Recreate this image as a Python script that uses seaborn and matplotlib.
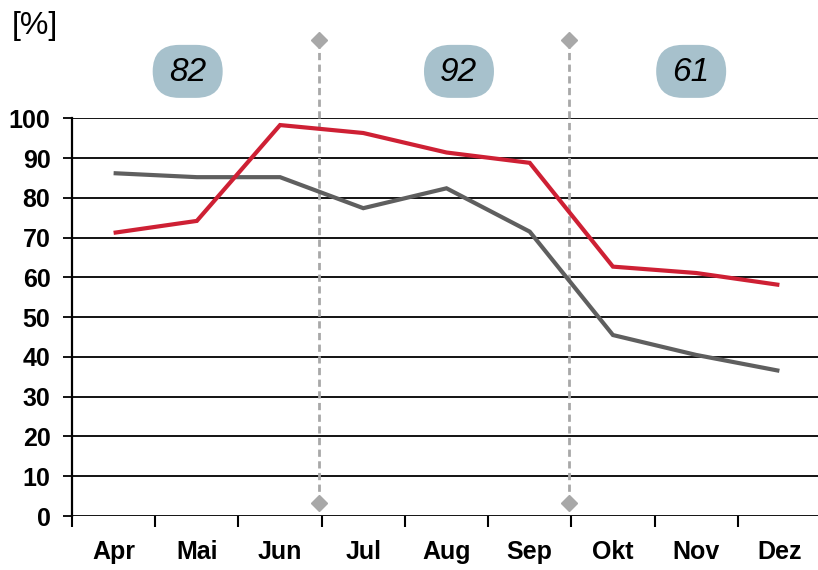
import numpy as np
import pandas as pd
import matplotlib
matplotlib.use("Agg")
import matplotlib.pyplot as plt
from matplotlib.patches import FancyBboxPatch
from matplotlib.transforms import ScaledTranslation
import seaborn as sns

# --- data -------------------------------------------------------------
months = ["Apr", "Mai", "Jun", "Jul", "Aug", "Sep", "Okt", "Nov", "Dez"]
serie_rot = [71.2, 74.2, 98.3, 96.3, 91.4, 88.8, 62.7, 61.1, 58.1]
serie_grau = [86.2, 85.2, 85.2, 77.4, 82.4, 71.5, 45.5, 40.5, 36.5]
quartal_werte = [82, 92, 61]
quartal_pos = [0.89, 4.15, 6.94]      # x position of each value badge
trenner = [2.47, 5.47]                # quarter separators
y_ticks = list(range(0, 101, 10))

RED = "#CE2034"
GREY = "#5F5F5F"
PILL = "#A7C1CC"
SEP = "#A8A8A8"

df = pd.DataFrame({
    "pos": list(range(len(months))) * 2,
    "wert": serie_rot + serie_grau,
    "serie": ["rot"] * len(months) + ["grau"] * len(months),
})

sns.set_theme(style="white")
plt.rcParams["font.family"] = ["Liberation Sans", "DejaVu Sans"]
plt.rcParams["text.color"] = "black"
plt.rcParams["xtick.color"] = "black"
plt.rcParams["ytick.color"] = "black"

fig = plt.figure(figsize=(8.18, 5.70), dpi=100)
ax = fig.add_axes([72 / 818, 54 / 570, 749 / 818, 397.7 / 570])

# horizontal grid
for v in y_ticks:
    ax.axhline(v, color="black", lw=1.3, zorder=1)

# quarter separators with diamond ends
for x in trenner:
    ax.plot([x, x], [3.2, 119.7], color=SEP, lw=2, ls=(0, (2.6, 1.6)),
            clip_on=False, zorder=2, solid_capstyle="butt")
    ax.plot([x, x], [3.2, 119.7], ls="none", marker="D", ms=8, color=SEP,
            mec=SEP, clip_on=False, zorder=2)

sns.lineplot(data=df, x="pos", y="wert", hue="serie",
             palette={"rot": RED, "grau": GREY}, hue_order=["grau", "rot"],
             linewidth=3, legend=False, ax=ax, zorder=3)
for ln in ax.get_lines():
    ln.set_solid_capstyle("butt")
    ln.set_solid_joinstyle("miter")

# quarter value badges
for xv, val in zip(quartal_pos, quartal_werte):
    tr = fig.dpi_scale_trans + ScaledTranslation(xv, 111.8, ax.transData)
    w, h, r = 0.70, 0.53, 0.265
    ax.add_patch(FancyBboxPatch((-w / 2, -h / 2), w, h,
                                boxstyle=f"round,pad=0,rounding_size={r}",
                                transform=tr, facecolor=PILL, edgecolor="none",
                                clip_on=False, zorder=4))
    ax.text(xv, 111.6, str(val), ha="center", va="center", fontsize=24,
            style="italic", color="black", zorder=5, clip_on=False)

ax.set_xlim(-0.5, len(months) - 0.5)
ax.set_ylim(0, 100)
ax.set_xlabel("")
ax.set_ylabel("")

ax.set_yticks(y_ticks)
ax.set_yticklabels([str(v) for v in y_ticks], fontsize=18, fontweight="bold",
                   color="black")
ax.set_xticks(range(len(months)))
ax.set_xticklabels(months, fontsize=18, fontweight="bold", color="black")
ax.set_xticks(np.arange(-0.5, len(months), 1.0), minor=True)

ax.tick_params(axis="y", which="major", direction="out", length=6.5, width=1.3,
               color="black", pad=9, left=True)
ax.tick_params(axis="x", which="major", length=0, pad=17, bottom=True)
ax.tick_params(axis="x", which="minor", direction="out", length=8, width=1.5,
               color="black", bottom=True)

for s in ["top", "right", "bottom"]:
    ax.spines[s].set_visible(False)
ax.spines["left"].set_color("black")
ax.spines["left"].set_linewidth(1.6)
ax.spines["left"].set_zorder(3)

fig.text(12 / 818, 1 - 26 / 570, "[%]", fontsize=23, ha="left", va="center",
         color="black")

fig.savefig("out.png", dpi=100)
